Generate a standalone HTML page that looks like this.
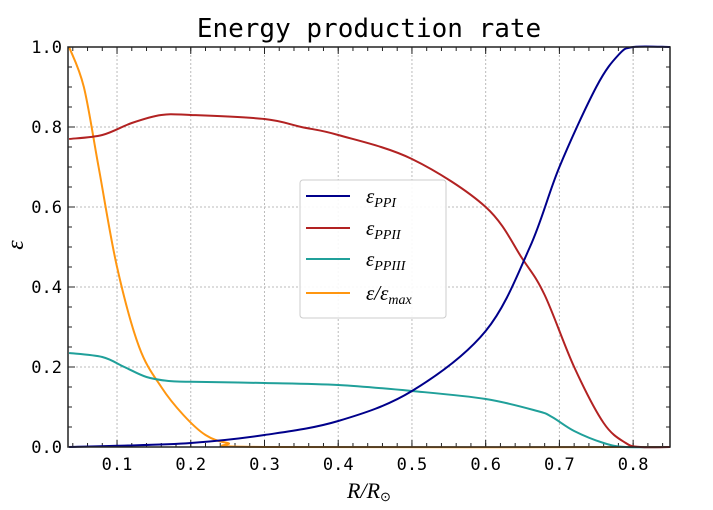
<!DOCTYPE html>
<html><head><meta charset="utf-8"><style>body{margin:0;background:#fff}svg{display:block}</style></head>
<body>
<svg id="c" width="713" height="510" xmlns="http://www.w3.org/2000/svg">
<text x="369" y="37" text-anchor="middle" font-family="DejaVu Sans Mono, monospace" font-size="26">Energy production rate</text>
<text x="369" y="498" text-anchor="middle" font-family="Liberation Serif, serif" font-style="italic" font-size="22">R/R<tspan font-style="normal" font-size="13" dy="3">⊙</tspan></text>
<text x="18" y="250" text-anchor="middle" font-family="Liberation Serif, serif" font-style="italic" font-size="24" transform="rotate(-90 18 245)">ε</text>
<g id="grid"></g><g id="ticks"></g><g id="series"></g>
<rect x="68" y="47" width="602" height="400" fill="none" stroke="#222" stroke-width="1.5"/>
<g>
<rect x="300" y="180" width="146" height="138" rx="3" fill="#fff" fill-opacity="0.9" stroke="#ccc"/>
<line x1="306" y1="196" x2="350" y2="196" stroke="#00008b" stroke-width="2"/>
<text x="366" y="203" font-family="Liberation Serif, serif" font-style="italic" font-size="21">ε<tspan font-size="14" dy="4">PPI</tspan></text>
<line x1="306" y1="228" x2="350" y2="228" stroke="#b22222" stroke-width="2"/>
<text x="366" y="235" font-family="Liberation Serif, serif" font-style="italic" font-size="21">ε<tspan font-size="14" dy="4">PPII</tspan></text>
<line x1="306" y1="259" x2="350" y2="259" stroke="#20a09a" stroke-width="2"/>
<text x="366" y="266" font-family="Liberation Serif, serif" font-style="italic" font-size="21">ε<tspan font-size="14" dy="4">PPIII</tspan></text>
<line x1="306" y1="293" x2="350" y2="293" stroke="#ff9610" stroke-width="2"/>
<text x="366" y="300" font-family="Liberation Serif, serif" font-style="italic" font-size="21">ε/ε<tspan font-size="14" dy="4">max</tspan></text>
</g>
</svg>
<script>
const xTicks=[0.1,0.2,0.3,0.4,0.5,0.6,0.7,0.8];
const yTicks=[0,0.2,0.4,0.6,0.8,1.0];
const rX=[0.035,0.08,0.12,0.16,0.2,0.3,0.35,0.4,0.5,0.6,0.65,0.68,0.72,0.76,0.79,0.81,0.85];
const rY=[0.77,0.78,0.81,0.83,0.83,0.82,0.80,0.78,0.72,0.60,0.47,0.38,0.20,0.06,0.01,0,0];
const bX=[0.035,0.1,0.2,0.3,0.4,0.5,0.6,0.66,0.7,0.75,0.78,0.8,0.85];
const bY=[0,0.003,0.01,0.03,0.065,0.14,0.29,0.5,0.7,0.9,0.98,1.0,1.0];
const tX=[0.035,0.08,0.11,0.14,0.17,0.2,0.3,0.4,0.5,0.6,0.67,0.69,0.72,0.76,0.79,0.85];
const tY=[0.235,0.225,0.2,0.175,0.165,0.163,0.16,0.155,0.14,0.12,0.09,0.075,0.04,0.01,0,0];
const oX=[0.035,0.055,0.075,0.1,0.13,0.16,0.19,0.22,0.25,0.3,0.85];
const oY=[1.0,0.9,0.7,0.45,0.25,0.15,0.08,0.03,0.01,0,0];
const X0=68,X1=670,Y0=447,Y1=47,xmin=0.0335,xmax=0.85;
const sx=v=>X0+(v-xmin)/(xmax-xmin)*(X1-X0), sy=v=>Y0+v*(Y1-Y0);
const NS='http://www.w3.org/2000/svg';
function mk(t,a,p){const e=document.createElementNS(NS,t);for(const k in a)e.setAttribute(k,a[k]);p.appendChild(e);return e;}
const G=document.getElementById('grid'),T=document.getElementById('ticks'),S=document.getElementById('series');
xTicks.forEach(v=>{const x=sx(v);
 const g=mk('line',{x1:x,x2:x,y1:Y1,y2:Y0,stroke:'#bbb','stroke-dasharray':'2,2'},G);
 
 
 mk('line',{x1:x,x2:x,y1:Y0,y2:Y0-7,stroke:'#222'},T);mk('line',{x1:x,x2:x,y1:Y1,y2:Y1+7,stroke:'#222'},T);
 const t=mk('text',{x:x,y:Y0+23,'text-anchor':'middle','font-family':'DejaVu Sans Mono, monospace','font-size':17},T);t.textContent=v.toFixed(1);
 
 
});
for(let v=0.04;v<0.85;v+=0.02){const x=sx(v);mk('line',{x1:x,x2:x,y1:Y0,y2:Y0-4,stroke:'#222'},T);mk('line',{x1:x,x2:x,y1:Y1,y2:Y1+4,stroke:'#222'},T);}
yTicks.forEach(v=>{const y=sy(v);
 if(v>0&&v<1){const g=mk('line',{x1:X0,x2:X1,y1:y,y2:y,stroke:'#bbb','stroke-dasharray':'2,2'},G);
 
 }
 mk('line',{x1:X0,x2:X0+7,y1:y,y2:y,stroke:'#222'},T);mk('line',{x1:X1,x2:X1-7,y1:y,y2:y,stroke:'#222'},T);
 const t=mk('text',{x:X0-6,y:y+6,'text-anchor':'end','font-family':'DejaVu Sans Mono, monospace','font-size':17},T);t.textContent=v.toFixed(1);
 
 
});
for(let v=0.05;v<1;v+=0.05){const y=sy(v);mk('line',{x1:X0,x2:X0+4,y1:y,y2:y,stroke:'#222'},T);mk('line',{x1:X1,x2:X1-4,y1:y,y2:y,stroke:'#222'},T);}
function path(xs,ys){const p=xs.map((x,i)=>[sx(x),sy(ys[i])]);let d='M'+p[0][0]+','+p[0][1];
 for(let i=0;i<p.length-1;i++){const a=p[Math.max(i-1,0)],b=p[i],c=p[i+1],e=p[Math.min(i+2,p.length-1)];
 d+=' C'+(b[0]+(c[0]-a[0])/6)+','+(b[1]+(c[1]-a[1])/6)+' '+(c[0]-(e[0]-b[0])/6)+','+(c[1]-(e[1]-b[1])/6)+' '+c[0]+','+c[1];}return d;}
[[oX,oY,'#ff9610','series-normalized'],[tX,tY,'#20a09a','series-ppiii'],[rX,rY,'#b22222','series-ppii'],[bX,bY,'#00008b','series-ppi']].forEach(s=>{
 const e=mk('path',{d:path(s[0],s[1]),fill:'none',stroke:s[2],'stroke-width':2},S);
 
 
});
</script>
</body></html>
